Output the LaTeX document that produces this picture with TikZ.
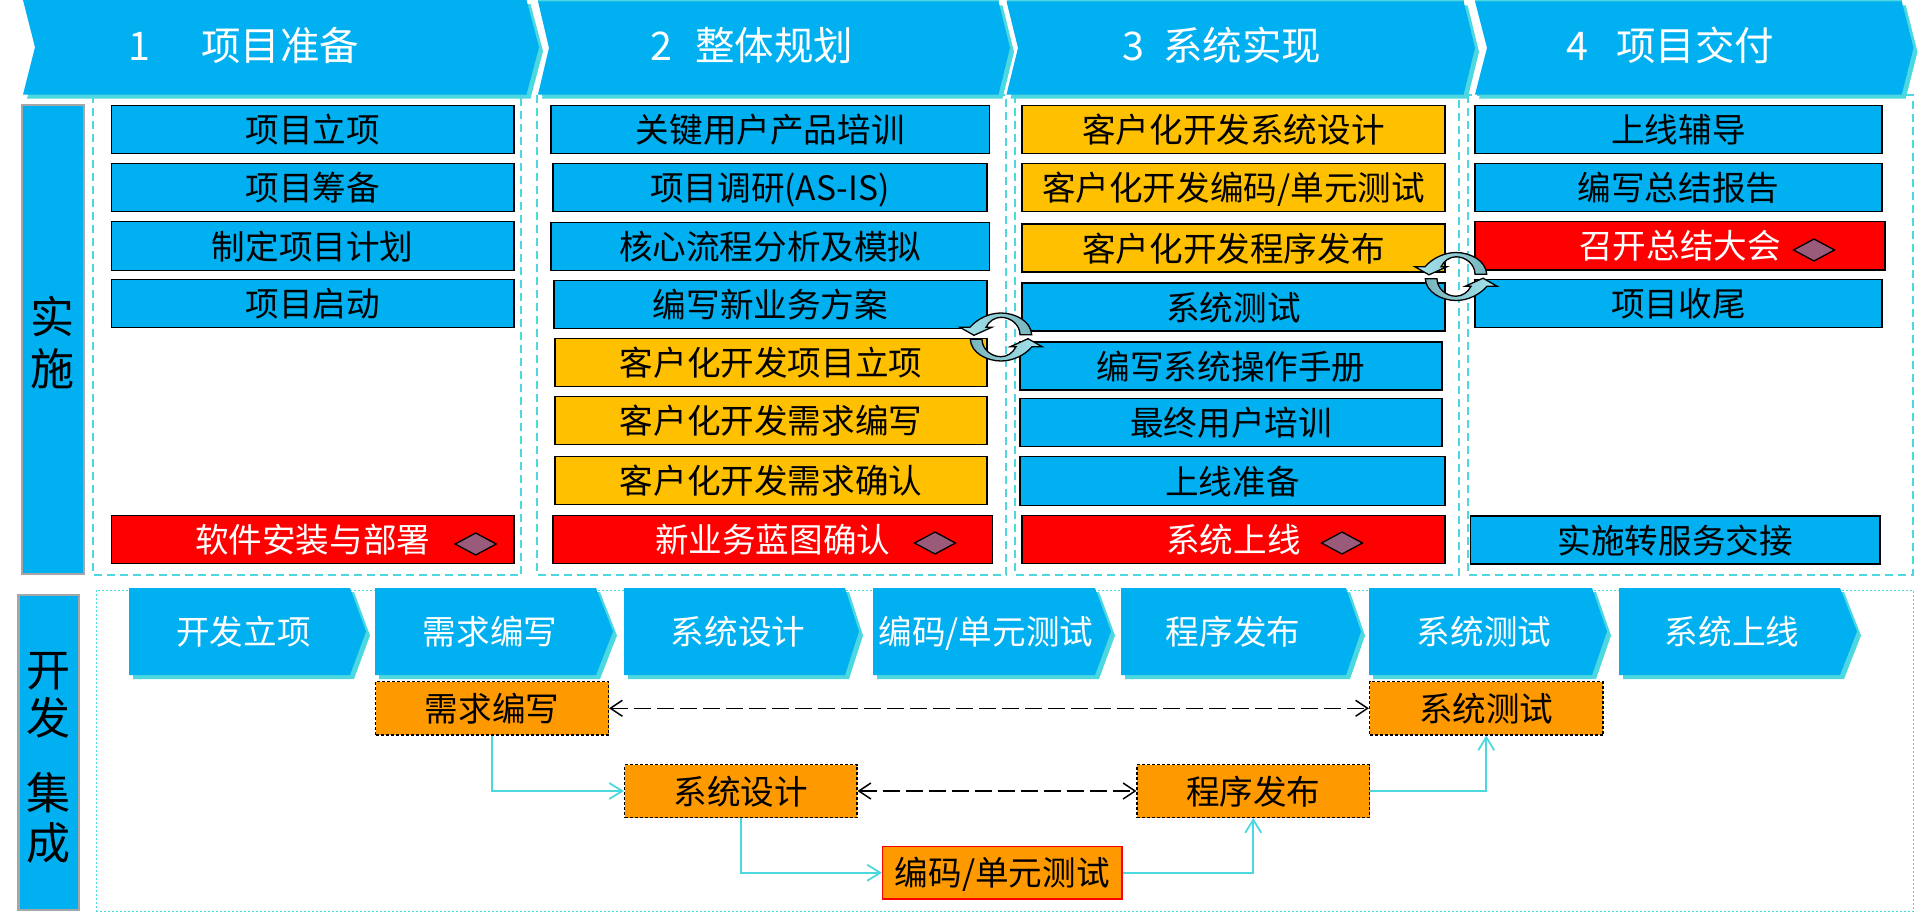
\documentclass[tikz,border=0pt]{standalone}
\usepackage{fontspec}
\setmainfont{Noto Sans CJK SC}
\usetikzlibrary{arrows.meta}
\definecolor{cblue}{HTML}{00B0F0}
\definecolor{cshadow}{HTML}{4DD8E0}
\definecolor{cyellow}{HTML}{FFC000}
\definecolor{corange}{HTML}{FF9900}
\definecolor{cgrey}{HTML}{A6A6A6}
\definecolor{cdia}{HTML}{9A5A7A}
\definecolor{clight}{HTML}{A6E6EE}
\definecolor{cdark}{HTML}{78B4BE}
\tikzset{
  txt/.style={inner sep=0pt,font=\fontsize{33.6}{40}\selectfont,text height=29.5pt,text depth=3.5pt},
  bluebox/.style={txt,draw=black,line width=1.1pt,fill=cblue},
  yellowbox/.style={txt,draw=black,line width=1.1pt,fill=cyellow},
  redbox/.style={txt,draw=black,line width=1.1pt,fill=red,text=white},
  orangedash/.style={txt,draw=black,line width=1.1pt,dash pattern=on 3pt off 2pt,fill=corange},
  orangered/.style={txt,draw=red,line width=1.1pt,fill=corange},
  sidebox/.style={draw=cgrey,line width=2.3pt,fill=cblue},
  colframe/.style={draw=cshadow,line width=2pt,dash pattern=on 8pt off 5pt},
  thinframe/.style={draw=cshadow,line width=1pt,dash pattern=on 2pt off 2pt},
  dia/.style={draw=black,line width=1.3pt,fill=cdia},
  chevtxt/.style={inner sep=0pt,text=white,font=\fontsize{33.6}{40}\selectfont,text height=28.5pt,text depth=4.5pt},
  headtxt/.style={inner sep=0pt,text=white,font=\fontsize{39.5}{46}\selectfont,text height=33pt,text depth=6pt},
  sidetxt/.style={inner sep=0pt,text=black,font=\fontsize{44}{50}\selectfont,text height=42pt,text depth=4pt},
  dbl/.style={draw=black,line width=1.5pt,dash pattern=on 17pt off 6pt,{Straight Barb[length=12pt,width=16pt,line width=1.5pt]}-{Straight Barb[length=12pt,width=16pt,line width=1.5pt]}},
  flow/.style={draw=cshadow,line width=1.8pt,-{Straight Barb[length=13pt,width=16pt,line width=1.8pt]}},
}
\newcommand{\bx}[7]{%
  \pgfmathsetmacro\bxw{#5-#3}\pgfmathsetmacro\bxh{#6-#4}%
  \pgfmathsetmacro\bxx{(#3+#5)/2}\pgfmathsetmacro\bxy{(#4+#6)/2}%
  \node[#2,minimum width=\bxw pt,minimum height=\bxh pt] (#1) at (\bxx,\bxy) {#7};}
% chevron: x-left, notch depth, y-top, y-bottom, shoulder, tip
\newcommand{\chev}[6]{%
  \pgfmathsetmacro\chm{(#3+#4)/2}\pgfmathsetmacro\chn{#1+#2}%
  \fill[cshadow,shift={(4,4)}] (#1,#3) -- (#5,#3) -- (#6,\chm) -- (#5,#4) -- (#1,#4) -- (\chn,\chm) -- cycle;
  \fill[cblue] (#1,#3) -- (#5,#3) -- (#6,\chm) -- (#5,#4) -- (#1,#4) -- (\chn,\chm) -- cycle;}
\newcommand{\cycleicon}[2]{%
  \begin{scope}[shift={(#1,#2)},line width=1.3pt,draw=black,line join=miter]
    \path[draw=black,left color=clight,right color=cdark] (30.7,-2.3) .. controls (30,-16) and (14,-24) .. (0,-24) .. controls (-12,-24) and (-24,-18) .. (-31,-9.7) -- (-41,-9.7) -- (-27,-1.7) -- (-9.3,-9.7) -- (-15,-9.7) .. controls (-12,-16) and (-6,-19.7) .. (0,-19.7) .. controls (10,-19.7) and (19,-12) .. (19,-2.3) -- cycle;
    \path[draw=black,left color=cdark,right color=clight] (-30.7,2.3) .. controls (-30,16) and (-14,24) .. (0,24) .. controls (12,24) and (24,18) .. (31,9.7) -- (41,9.7) -- (27,1.7) -- (9.3,9.7) -- (15,9.7) .. controls (12,16) and (6,19.7) .. (0,19.7) .. controls (-10,19.7) and (-19,12) .. (-19,2.3) -- cycle;
  \end{scope}}
\newcommand{\dmd}[2]{\path[dia] (#1-20.5,#2) -- (#1,#2-11) -- (#1+20.5,#2) -- (#1,#2+11) -- cycle;}
\begin{document}
\begin{tikzpicture}[x=1pt,y=-1pt]
\useasboundingbox (0,0) rectangle (1919,913);
% frames
\path[colframe] (92.5,95) rectangle (521,575);
\path[colframe] (537,95) rectangle (1006,575);
\path[colframe] (1015,95) rectangle (1459,575);
\path[colframe] (1468,95) rectangle (1913,575);
\path[thinframe] (96.5,590) rectangle (1913,911);
% header chevrons
\fill[cshadow] (538,0) rectangle (998.5,2);
\fill[cshadow] (1006.5,0) rectangle (1463.6,2);
\fill[cshadow] (1475,0) rectangle (1901.7,2);
\chev{23}{12}{0}{94.5}{526.5}{539}
\chev{538}{11}{1.3}{94.5}{998.5}{1010}
\chev{1006.5}{11.5}{1.3}{94.5}{1463.6}{1475}
\chev{1475}{12}{1.3}{94.5}{1901.7}{1913.5}
\node[headtxt] (h1n) at (139.5,47) {1};
\node[headtxt] (h1) at (280,47) {项目准备};
\node[headtxt] (h2n) at (661,47) {2};
\node[headtxt] (h2) at (774,47) {整体规划};
\node[headtxt] (h3n) at (1133,47) {3};
\node[headtxt] (h3) at (1242,47) {系统实现};
\node[headtxt] (h4n) at (1577,47) {4};
\node[headtxt] (h4) at (1695,47) {项目交付};
% side boxes
\bx{sa}{sidebox}{22}{105}{84}{574}{}
\bx{sb}{sidebox}{18.5}{595}{79}{910}{}
\node[sidetxt] (sa1) at (52.3,314) {实};
\node[sidetxt] (sa2) at (52.3,366) {施};
\node[sidetxt] (sb1) at (48.5,667) {开};
\node[sidetxt] (sb2) at (48.5,715) {发};
\node[sidetxt] (sb3) at (48.5,790) {集};
\node[sidetxt] (sb4) at (48.5,840) {成};
% column 1
\bx{a1}{bluebox}{111.5}{105.5}{514}{153.5}{项目立项}
\bx{a2}{bluebox}{111.5}{163.5}{514}{211.5}{项目筹备}
\bx{a3}{bluebox}{111.5}{221.5}{514}{270.5}{制定项目计划}
\bx{a4}{bluebox}{111.5}{279.5}{514}{327.5}{项目启动}
\bx{a5}{redbox}{111.5}{515.5}{514}{563.5}{软件安装与部署}
% column 2
\bx{b1}{bluebox}{551}{105.5}{989.5}{153.5}{关键用户产品培训}
\bx{b2}{bluebox}{553}{163.5}{987}{211.5}{项目调研(AS-IS)}
\bx{b3}{bluebox}{551}{222.5}{989.5}{270.5}{核心流程分析及模拟}
\bx{b4}{bluebox}{554}{280.5}{987}{328.5}{编写新业务方案}
\bx{b5}{yellowbox}{555}{338.5}{987}{386.5}{客户化开发项目立项}
\bx{b6}{yellowbox}{555}{396.5}{987}{444.5}{客户化开发需求编写}
\bx{b7}{yellowbox}{555}{456.5}{987}{504.5}{客户化开发需求确认}
\bx{b8}{redbox}{553}{515.5}{992.5}{563.5}{新业务蓝图确认}
% column 3
\bx{c1}{yellowbox}{1022}{105.5}{1445}{153.5}{客户化开发系统设计}
\bx{c2}{yellowbox}{1022}{163.5}{1445}{211.5}{客户化开发编码/单元测试}
\bx{c3}{yellowbox}{1022}{224}{1445}{272}{客户化开发程序发布}
\bx{c4}{bluebox}{1022}{283}{1445}{331}{系统测试}
\bx{c5}{bluebox}{1020}{342}{1442}{390}{编写系统操作手册}
\bx{c6}{bluebox}{1020}{398.5}{1442}{446.5}{最终用户培训}
\bx{c7}{bluebox}{1020}{456.5}{1445}{505.5}{上线准备}
\bx{c8}{redbox}{1022}{515.5}{1445}{563.5}{系统上线}
% column 4
\bx{d1}{bluebox}{1475}{105.5}{1882}{153.5}{上线辅导}
\bx{d2}{bluebox}{1475}{163.5}{1882}{211.5}{编写总结报告}
\bx{d3}{redbox}{1475}{221.5}{1885}{270}{召开总结大会}
\bx{d4}{bluebox}{1475}{279.5}{1882}{327.5}{项目收尾}
\bx{d5}{bluebox}{1470.5}{516}{1880}{564}{实施转服务交接}
% diamonds
\dmd{475.7}{544}
\dmd{935}{543}
\dmd{1342}{543}
\dmd{1814}{250}
% cycle icons
\cycleicon{1001}{337}
\cycleicon{1456}{276.5}
% lower chevrons
\chev{129}{0}{588}{675}{350}{366}
\chev{375}{0}{588}{675}{596}{613}
\chev{624}{0}{588}{675}{845}{859}
\chev{873}{0}{588}{675}{1095}{1111}
\chev{1121}{0}{588}{675}{1346}{1361}
\chev{1369}{0}{588}{675}{1592}{1607}
\chev{1619}{0}{588}{675}{1840}{1857}
\node[chevtxt] (p1) at (243.5,632) {开发立项};
\node[chevtxt] (p2) at (490,632) {需求编写};
\node[chevtxt] (p3) at (738,632) {系统设计};
\node[chevtxt] (p4) at (986,632) {编码/单元测试};
\node[chevtxt] (p5) at (1233,632) {程序发布};
\node[chevtxt] (p6) at (1484,632) {系统测试};
\node[chevtxt] (p7) at (1732,632) {系统上线};
% orange process boxes
\bx{q1}{orangedash}{375.5}{681.5}{608.5}{735}{需求编写}
\bx{q2}{orangedash}{1369.5}{681.5}{1603}{735}{系统测试}
\bx{q3}{orangedash}{624.5}{764.5}{857}{817.5}{系统设计}
\bx{q4}{orangedash}{1137}{764.5}{1369.5}{817.5}{程序发布}
\bx{q5}{orangered}{882.5}{846.5}{1122}{899}{编码/单元测试}
% connectors
\path[dbl] (q1) -- (q2);
\path[dbl] (q3) -- (q4);
\path[flow] (q1.south) |- (q3.west);
\path[flow] (q3.south) |- (q5.west);
\path[flow] (q5.east) -| (q4.south);
\path[flow] (q4.east) -| (q2.south);
\end{tikzpicture}
\end{document}
